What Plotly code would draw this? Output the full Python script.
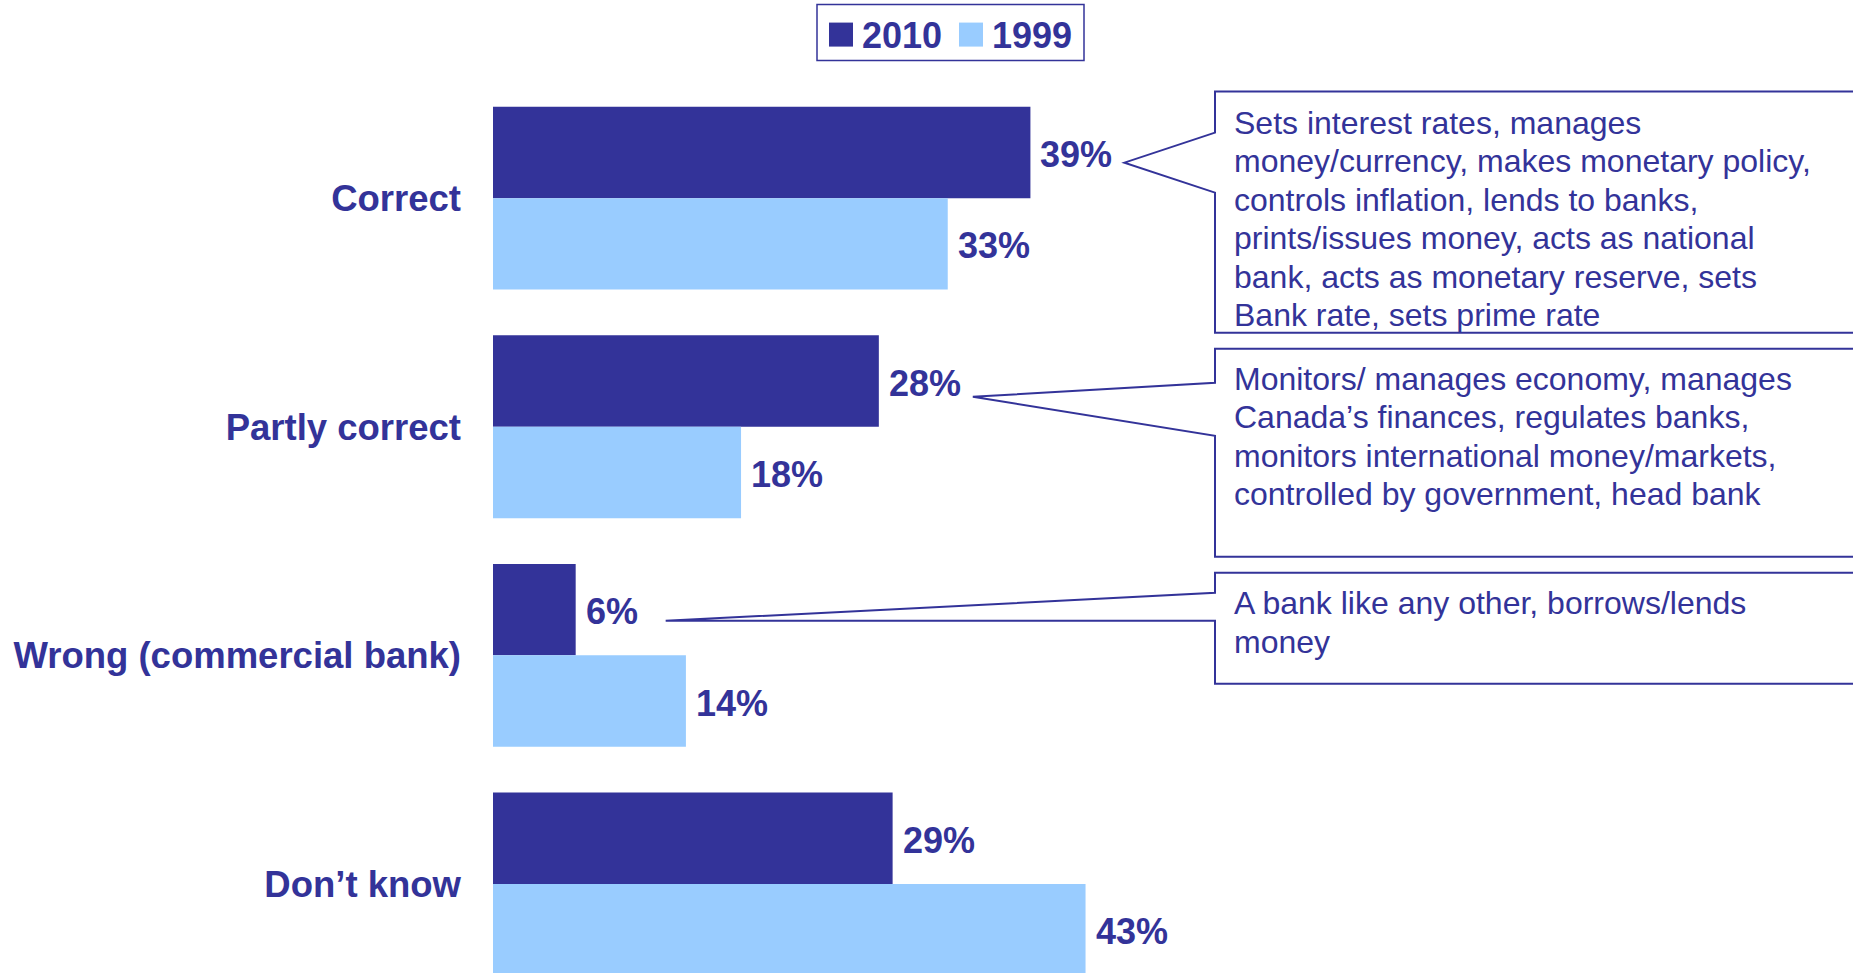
import plotly.graph_objects as go

# ---- data -------------------------------------------------------------
categories = ["Correct", "Partly correct", "Wrong (commercial bank)", "Don’t know"]
series_names = ["2010", "1999"]
values_2010 = [39, 28, 6, 29]
values_1999 = [33, 18, 14, 43]

callout_lines = [
    ["Sets interest rates, manages",
     "money/currency, makes monetary policy,",
     "controls inflation, lends to banks,",
     "prints/issues money, acts as national",
     "bank, acts as monetary reserve, sets",
     "Bank rate, sets prime rate"],
    ["Monitors/ manages economy, manages",
     "Canada’s finances, regulates banks,",
     "monitors international money/markets,",
     "controlled by government, head bank"],
    ["A bank like any other, borrows/lends",
     "money"],
]

# ---- styling ----------------------------------------------------------
DARK = "#333399"
LIGHT = "#99CCFF"
FONT = "Liberation Sans, Arial, sans-serif"

FIG_W, FIG_H = 1853, 973
M_L, M_T, M_B = 493, 61.4, 0
PLOT_W = 689
M_R = FIG_W - M_L - PLOT_W
PLOT_H = FIG_H - M_T - M_B
X_MAX = 50
UNIT_PX = 228.5                      # pixels per category band
Y_TOP = -0.6
Y_BOTTOM = Y_TOP + PLOT_H / UNIT_PX


def px(x):
    """page pixel x -> paper x"""
    return (x - M_L) / PLOT_W


def py(y):
    """page pixel y -> paper y"""
    return (FIG_H - M_B - y) / PLOT_H


def bar_end_px(v):
    return M_L + v / X_MAX * PLOT_W


fig = go.Figure()
fig.add_trace(go.Bar(y=categories, x=values_2010, orientation="h",
                     name=series_names[0], marker=dict(color=DARK, line=dict(width=0)),
                     showlegend=False, hoverinfo="skip"))
fig.add_trace(go.Bar(y=categories, x=values_1999, orientation="h",
                     name=series_names[1], marker=dict(color=LIGHT, line=dict(width=0)),
                     showlegend=False, hoverinfo="skip"))

annotations = []
# value labels to the right of each bar
for i, (a, b) in enumerate(zip(values_2010, values_1999)):
    for v, off in ((a, -0.2), (b, 0.2)):
        annotations.append(dict(
            x=v, y=i + off, xref="x", yref="y", text=f"{v}%",
            showarrow=False, xanchor="left", yanchor="middle", xshift=8, yshift=-2,
            font=dict(family=FONT, size=36, color=DARK, weight="bold")))

# callout boxes with pointers toward the 2010 labels
shapes = []
boxes = [
    # top, bottom, pointer upper base, pointer lower base, tip, line centres
    dict(top=92, bottom=333, b1=133, b2=193, tip_y=163, tip_dx=94, val=values_2010[0],
         lines_y=[123, 161.5, 200, 238.5, 277, 315]),
    dict(top=349, bottom=557, b1=383, b2=436, tip_y=397, tip_dx=94, val=values_2010[1],
         lines_y=[379, 417.5, 456, 494]),
    dict(top=573, bottom=684, b1=593, b2=621, tip_y=621, tip_dx=90, val=values_2010[2],
         lines_y=[603, 642]),
]
BOX_L, BOX_R = 1215, 1900
for box, lines in zip(boxes, callout_lines):
    tip_x = bar_end_px(box["val"]) + box["tip_dx"]
    pts = [(BOX_L, box["top"]), (BOX_R, box["top"]), (BOX_R, box["bottom"]),
           (BOX_L, box["bottom"]), (BOX_L, box["b2"]), (tip_x, box["tip_y"]),
           (BOX_L, box["b1"])]
    path = "M " + " L ".join(f"{px(x):.5f},{py(y):.5f}" for x, y in pts) + " Z"
    shapes.append(dict(type="path", xref="paper", yref="paper", path=path,
                       fillcolor="white", line=dict(color=DARK, width=2)))
    for yy, txt in zip(box["lines_y"], lines):
        annotations.append(dict(
            x=px(1232), y=py(yy), xref="paper", yref="paper", text=txt,
            showarrow=False, xanchor="left", yanchor="middle",
            font=dict(family=FONT, size=32, color=DARK)))

# legend box
shapes.append(dict(type="rect", xref="paper", yref="paper",
                   x0=px(817), x1=px(1084), y0=py(5), y1=py(61),
                   fillcolor="white", line=dict(color=DARK, width=1.5)))
for name, col, sq_x, tx in ((series_names[0], DARK, 829, 860),
                            (series_names[1], LIGHT, 959, 990)):
    shapes.append(dict(type="rect", xref="paper", yref="paper",
                       x0=px(sq_x), x1=px(sq_x + 24), y0=py(23), y1=py(47),
                       fillcolor=col, line=dict(width=0)))
    annotations.append(dict(
        x=px(tx), y=py(35.5), xref="paper", yref="paper", text=name,
        showarrow=False, xanchor="left", yanchor="middle",
        font=dict(family=FONT, size=36, color=DARK, weight="bold")))

fig.update_layout(
    width=FIG_W, height=FIG_H,
    margin=dict(l=M_L, r=M_R, t=M_T, b=M_B, pad=0),
    paper_bgcolor="white", plot_bgcolor="white",
    barmode="group", bargap=0.2, bargroupgap=0,
    showlegend=False,
    xaxis=dict(range=[0, X_MAX], visible=False, fixedrange=True),
    yaxis=dict(type="category", categoryorder="array", categoryarray=categories,
               range=[Y_BOTTOM, Y_TOP], showgrid=False, zeroline=False, showline=False,
               ticks="", ticklabelstandoff=31,
               tickfont=dict(family=FONT, size=36.5, color=DARK, weight="bold")),
    shapes=shapes, annotations=annotations,
)

fig.write_html("out.html")
